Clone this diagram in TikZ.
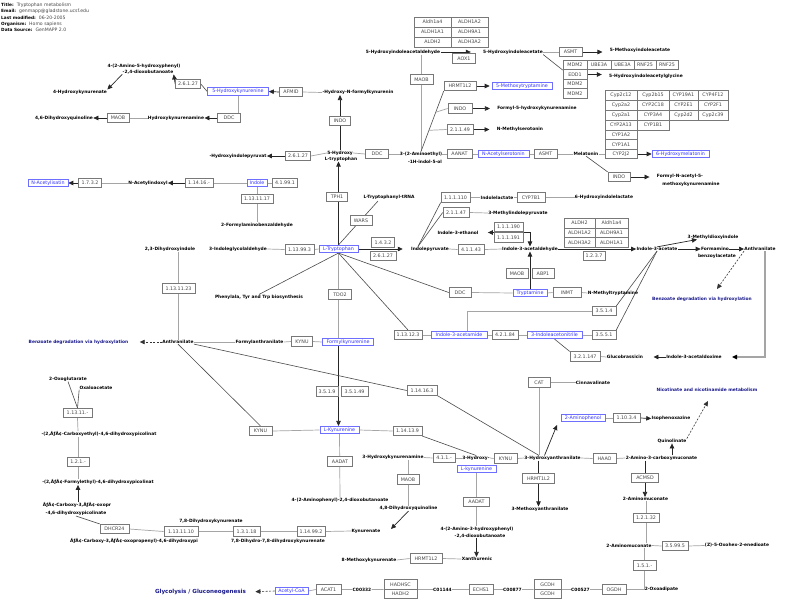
\documentclass[tikz,border=0pt]{standalone}
\usepackage{fontspec}
\setmainfont{DejaVu Sans}
\usetikzlibrary{arrows.meta,calc}
\pgfdeclarelayer{bg}
\pgfsetlayers{bg,main}
\definecolor{navy}{RGB}{25,25,140}
\definecolor{gbord}{RGB}{120,120,120}
\definecolor{gtext}{RGB}{70,70,70}
\definecolor{bbord}{RGB}{110,110,255}
\definecolor{btext}{RGB}{50,50,255}
\definecolor{lgray}{RGB}{165,165,165}
\definecolor{dgray}{RGB}{75,75,75}
\tikzset{
 met/.style={font=\fontsize{4.4}{5}\selectfont\bfseries, inner sep=0.2pt},
 pw/.style={font=\fontsize{4.4}{5}\selectfont\bfseries, text=navy, inner sep=0.2pt},
 gene/.style={draw=gbord, line width=0.6pt, fill=white, font=\fontsize{4.8}{5.5}\selectfont, text=gtext, minimum height=9.5pt, inner sep=0pt},
 blu/.style={draw=bbord, line width=0.6pt, fill=white, font=\fontsize{4.8}{5.5}\selectfont, text=btext, minimum height=7.5pt, inner sep=0pt},
 ln/.style={draw=lgray, line width=0.7pt},
 dln/.style={draw=dgray, line width=0.6pt},
 arr/.style={draw=black!85, line width=0.7pt, -{Triangle[length=5pt,width=4.5pt]}},
 arrb/.style={draw=black!85, line width=0.7pt, {Triangle[length=5pt,width=4.5pt]}-{Triangle[length=5pt,width=4.5pt]}},
 darr/.style={draw=black!80, line width=0.6pt, dash pattern=on 2pt off 1.5pt, -{Triangle[length=5pt,width=4.5pt]}},
 hd/.style={anchor=west, inner sep=0pt},
}
\newcommand{\hlab}{\fontsize{4.3}{5}\selectfont\bfseries}
\newcommand{\hval}{\fontsize{4.6}{5}\selectfont\mdseries\color{gtext}}
\begin{document}
\begin{tikzpicture}[x=1pt,y=-1pt]
\useasboundingbox (0,0) rectangle (785,606);
% header
\node[hd] (h1) at (1,5) {\hlab Title:\ \ \hval Tryptophan metabolism};
\node[hd] (h2) at (1,11.5) {\hlab Email:\ \ \hval genmapp@gladstone.ucsf.edu};
\node[hd] (h3) at (1,18) {\hlab Last modified:\ \ \hval 06-20-2005};
\node[hd] (h4) at (1,24) {\hlab Organism:\ \ \hval Homo sapiens};
\node[hd] (h5) at (1,30) {\hlab Data Source:\ \ \hval GenMAPP 2.0};

% ---------- top left
\node[met] (aahp1) at (144,66) {4-(2-Amino-5-hydroxyphenyl)};
\node[met] (aahp2) at (148,72) {-2,4-dioxobutanoate};
\node[gene, minimum width=25pt] (e26127a) at (188,84) {2.6.1.27};
\node[met] (hkyna) at (80,92) {4-Hydroxykynurenate};
\node[blu, minimum width=61pt] (hkyn) at (238,91.5) {5-Hydroxykynurenine};
\node[gene, minimum width=23pt] (afmid) at (291,92) {AFMID};
\node[met] (hnfk) at (358,92.5) {-Hydroxy-N-formylkynurenin};
\node[gene, minimum width=22pt] (maob1) at (118,118) {MAOB};
\node[met] (dhq46) at (64,118) {4,6-Dihydroxyquinoline};
\node[met] (hkyam) at (176,118) {Hydroxykynurenamine};
\node[gene, minimum width=23pt] (ddc1) at (229,118) {DDC};
\node[gene, minimum width=21pt] (indo1) at (340,121) {INDO};
\node[met] (htrp1) at (340,153) {5-Hydroxy};
\node[met] (htrp2) at (341,159) {L-tryptophan};
\node[gene, minimum width=23pt] (ddc2) at (377,154) {DDC};
\node[gene, minimum width=25pt] (e26127b) at (298,156) {2.6.1.27};
\node[met] (hipyr) at (238,156) {-Hydroxyindolepyruvat};
\node[gene, minimum width=21pt] (tph1) at (337,197) {TPH1};
\node[blu, minimum width=20pt] (indole) at (257,183) {Indole};
\node[gene, minimum width=25pt] (e41991) at (285,183) {4.1.99.1};
\node[gene, minimum width=28pt] (e11416) at (199,183) {1.14.16.-};
\node[met] (nacind) at (148,183) {N-Acetylindoxyl};
\node[gene, minimum width=23pt] (e1732) at (90,183) {1.7.3.2};
\node[blu, minimum width=40pt] (nacis) at (48,183) {N-Acetylisatin};
\node[gene, minimum width=32pt] (e1311117) at (257,199) {1.13.11.17};
\node[met] (fab) at (257,225) {2-Formylaminobenzaldehyde};

% ---------- top middle
\node[gene, minimum width=37pt, minimum height=10pt] (al1) at (432.5,22) {Aldh1a4};
\node[gene, minimum width=37pt, minimum height=10pt] (al2) at (469.5,22) {ALDH1A2};
\node[gene, minimum width=37pt, minimum height=10pt] (al3) at (432.5,32) {ALDH1A1};
\node[gene, minimum width=37pt, minimum height=10pt] (al4) at (469.5,32) {ALDH9A1};
\node[gene, minimum width=37pt, minimum height=10pt] (al5) at (432.5,42) {ALDH2};
\node[gene, minimum width=37pt, minimum height=10pt] (al6) at (469.5,42) {ALDH3A2};
\node[met] (hiald) at (403,52) {5-Hydroxyindoleacetaldehyde};
\node[met] (hiac) at (513,52) {5-Hydroxyindoleacetate};
\node[gene, minimum width=23pt] (aox1) at (464,58.5) {AOX1};
\node[gene, minimum width=23pt] (maob2) at (421.5,79.5) {MAOB};
\node[gene, minimum width=32pt] (hrmt1) at (460,86) {HRMT1L2};
\node[blu, minimum width=60pt] (mtryp) at (522,86) {5-Methoxytryptamine};
\node[gene, minimum width=24pt] (indo2) at (460,108.5) {INDO};
\node[met] (f5hk) at (537,108.5) {Formyl-5-hydroxykynurenamine};
\node[gene, minimum width=26pt] (e21149) at (460,129.5) {2.1.1.49};
\node[met] (nmser) at (520,129.5) {N-Methylserotonin};
\node[met] (amet1) at (421,154) {3-(2-Aminoethyl)};
\node[met] (amet2) at (425,162) {-1H-indol-5-ol};
\node[gene, minimum width=25pt] (aanat) at (459.5,154) {AANAT};
\node[blu, minimum width=51pt] (nacser) at (503.5,154) {N-Acetylserotonin};
\node[gene, minimum width=23pt] (asmt1) at (545.5,154) {ASMT};
\node[met] (melat) at (586,154) {Melatonin};

% ---------- top right
\node[gene, minimum width=23pt] (asmt2) at (570.5,52) {ASMT};
\node[met] (mia) at (640,50.5) {5-Methoxyindoleacetate};
\node[gene, minimum width=24pt] (mdm1) at (575,65) {MDM2};
\node[gene, minimum width=24pt] (edd1) at (575,74.5) {EDD1};
\node[gene, minimum width=24pt] (mdm2) at (575,84) {MDM2};
\node[gene, minimum width=24pt] (mdm3) at (575,93.5) {MDM2};
\node[gene, minimum width=24pt] (ube1) at (599,65) {UBE3A};
\node[gene, minimum width=23pt] (ube2) at (622.5,65) {UBE3A};
\node[gene, minimum width=22pt] (rnf1) at (645,65) {RNF25};
\node[gene, minimum width=22pt] (rnf2) at (667,65) {RNF25};
\node[met] (higly) at (646,76) {5-Hydroxyindoleacetylglycine};
\node[gene, minimum width=32pt, minimum height=10pt] (cy11) at (621,95) {Cyp2c12};
\node[gene, minimum width=32pt, minimum height=10pt] (cy12) at (653,95) {Cyp2b15};
\node[gene, minimum width=29pt, minimum height=10pt] (cy13) at (683.5,95) {CYP19A1};
\node[gene, minimum width=30pt, minimum height=10pt] (cy14) at (713,95) {CYP4F12};
\node[gene, minimum width=32pt, minimum height=10pt] (cy21) at (621,105) {Cyp2a2};
\node[gene, minimum width=32pt, minimum height=10pt] (cy22) at (653,105) {CYP2C18};
\node[gene, minimum width=29pt, minimum height=10pt] (cy23) at (683.5,105) {CYP2E1};
\node[gene, minimum width=30pt, minimum height=10pt] (cy24) at (713,105) {CYP2F1};
\node[gene, minimum width=32pt, minimum height=10pt] (cy31) at (621,115) {Cyp2a1};
\node[gene, minimum width=32pt, minimum height=10pt] (cy32) at (653,115) {CYP3A4};
\node[gene, minimum width=29pt, minimum height=10pt] (cy33) at (683.5,115) {Cyp2d2};
\node[gene, minimum width=30pt, minimum height=10pt] (cy34) at (713,115) {Cyp2c39};
\node[gene, minimum width=32pt, minimum height=10pt] (cy41) at (621,125) {CYP2A13};
\node[gene, minimum width=32pt, minimum height=10pt] (cy42) at (653,125) {CYP1B1};
\node[gene, minimum width=32pt, minimum height=10pt] (cy51) at (621,135) {CYP1A2};
\node[gene, minimum width=32pt] (cy61) at (621,144.5) {CYP1A1};
\node[gene, minimum width=32pt] (cy71) at (621,154) {CYP2J2};
\node[blu, minimum width=57pt] (hmel) at (680.5,154) {6-Hydroxymelatonin};
\node[gene, minimum width=22pt] (indo3) at (619,177) {INDO};
\node[met] (fnak1) at (680,176) {Formyl-N-acetyl-5-};
\node[met] (fnak2) at (691,184.5) {methoxykynurenamine};

% ---------- middle band
\node[met] (trna) at (389,197.5) {L-Tryptophanyl-tRNA};
\coordinate (trnaend) at (378,201);
\node[gene, minimum width=22pt] (wars) at (361,220.5) {WARS};
\node[gene, minimum width=29pt] (e111110) at (455.5,197.5) {1.1.1.110};
\node[met] (ilac) at (497,197.5) {Indolelactate};
\node[gene, minimum width=28pt] (cyp7b1) at (531,197.5) {CYP7B1};
\node[met] (hilac) at (604,197.5) {6-Hydroxyindolelactate};
\node[gene, minimum width=26pt] (e21147) at (456,212.5) {2.1.1.47};
\node[met] (mipyr) at (518,213) {3-Methylindolepyruvate};
\node[met] (ieth) at (458,232.5) {Indole-3-ethanol};
\node[gene, minimum width=29pt] (e111190) at (508.5,227) {1.1.1.190};
\node[gene, minimum width=29pt] (e111191) at (508.5,237.5) {1.1.1.191};
\node[gene, minimum width=23pt] (e1432) at (383,242.5) {1.4.3.2};
\node[gene, minimum width=26pt] (e26127c) at (383,256) {2.6.1.27};
\node[met] (ipyr) at (430,249) {Indolepyruvate};
\coordinate (ipj) at (418,246.5);
\node[gene, minimum width=26pt] (e41143) at (471,249.5) {4.1.1.43};
\node[met] (iald) at (530,249) {Indole-3-acetaldehyde};
\node[gene, minimum width=31pt, minimum height=10pt] (bl1) at (579.5,223) {ALDH2};
\node[gene, minimum width=33pt, minimum height=10pt] (bl2) at (611.5,223) {Aldh1a4};
\node[gene, minimum width=31pt, minimum height=10pt] (bl3) at (579.5,233) {ALDH1A2};
\node[gene, minimum width=33pt, minimum height=10pt] (bl4) at (611.5,233) {ALDH9A1};
\node[gene, minimum width=31pt] (bl5) at (579.5,242.5) {ALDH3A2};
\node[gene, minimum width=33pt] (bl6) at (611.5,242.5) {ALDH1A1};
\node[gene, minimum width=22pt] (e1237) at (594,256) {1.2.3.7};
\node[met] (iac) at (657,249) {Indole-3-acetate};
\node[met] (mdox) at (713,237) {3-Methyldioxyindole};
\coordinate (mdoxtip) at (697,239.5);
\node[met] (fba1) at (715,249) {Formamino};
\node[met] (fba2) at (717,256.5) {benzoylacetate};
\node[met] (anth2) at (760,249) {Anthranilate};
\node[pw] (bdeg2) at (702,299) {Benzoate degradation via hydroxylation};
\coordinate (bdeg2tip) at (717,289);
\node[met] (nmtry) at (613,293) {N-Methyltryptamine};
\node[gene, minimum width=24pt] (e3514) at (604,311) {3.5.1.4};
\node[gene, minimum width=24pt] (e3551) at (604,335) {3.5.5.1};
\node[met] (iaox) at (694,357) {Indole-3-acetaldoxime};
\coordinate (ancorner) at (765,357);
\node[met] (glub) at (625,357) {Glucobrassicin};
\node[gene, minimum width=30pt] (e321147) at (585,356.5) {3.2.1.147};

\node[blu, minimum width=39pt] (ltrp) at (338.5,249) {L-Tryptophan};
\node[gene, minimum width=29pt] (e113993) at (299.5,249.5) {1.13.99.3};
\node[met] (iglyc) at (238,249) {3-Indoleglycolaldehyde};
\node[met] (dhi) at (170,249) {2,3-Dihydroxyindole};
\node[gene, minimum width=33pt] (e1311123) at (178.5,288.5) {1.13.11.23};
\node[met] (phe) at (259,297) {Phenylala, Tyr and Trp biosynthesis};
\node[gene, minimum width=23pt] (tdo2) at (340,294.5) {TDO2};
\node[gene, minimum width=22pt] (ddc3) at (460,292.5) {DDC};
\node[blu, minimum width=34pt] (trypt) at (530,293) {Tryptamine};
\node[gene, minimum width=28pt] (inmt) at (567,292.5) {INMT};
\node[gene, minimum width=22pt] (maob3) at (517,273.5) {MAOB};
\node[gene, minimum width=22pt] (abp1) at (543,273.5) {ABP1};
\node[met] (anth1) at (178,342) {Anthranilate};
\node[pw] (bdeg1) at (78.5,342) {Benzoate degradation via hydroxylation};
\node[met] (fanth) at (259.5,342) {Formylanthranilate};
\node[gene, minimum width=21pt] (kynu1) at (302,341.5) {KYNU};
\node[blu, minimum width=51pt] (fkyn) at (348,342) {Formylkynurenine};
\node[gene, minimum width=28pt] (e1311223) at (408,335) {1.13.12.3};
\node[blu, minimum width=56pt] (iacam) at (459,335) {Indole-3-acetamide};
\node[gene, minimum width=26pt] (e42184) at (505,335) {4.2.1.84};
\node[blu, minimum width=55pt] (ianit) at (554.5,335) {3-Indoleacetonitrile};

% ---------- lower middle
\node[gene, minimum width=22pt] (e3519) at (327,391.5) {3.5.1.9};
\node[gene, minimum width=27pt] (e35149) at (354.5,391.5) {3.5.1.49};
\node[gene, minimum width=30pt] (e114163) at (422,390.5) {1.14.16.3};
\node[gene, minimum width=22pt] (cat) at (539,382.5) {CAT};
\node[met] (cinn) at (593,382.5) {Cinnavalinate};
\node[pw] (nicot) at (707,390) {Nicotinate and nicotinamide metabolism};
\coordinate (nicottip) at (708,401);
\node[blu, minimum width=44pt] (aphen) at (583,418) {2-Aminophenol};
\coordinate (aphentip) at (557,425);
\node[gene, minimum width=27pt] (e11034) at (626.5,418) {1.10.3.4};
\node[met] (isoph) at (671,418.5) {Isophenoxazine};
\node[met] (quin) at (672,441) {Quinolinate};
\node[gene, minimum width=23pt] (kynu2) at (260.5,431) {KYNU};
\node[blu, minimum width=39pt] (lkyn) at (339.5,430) {L-Kynurenine};
\node[gene, minimum width=29pt] (e114139) at (407.5,431) {1.14.13.9};
\node[met] (hkam) at (393,457.5) {3-Hydroxykynurenamine};
\node[gene, minimum width=22pt] (e411) at (444,458) {4.1.1.-};
\node[met] (hlk1) at (476,458) {3-Hydroxy-};
\node[blu, minimum width=39pt] (hlk) at (476.5,469) {L-kynurenine};
\node[gene, minimum width=23pt] (kynu3) at (505.5,458.5) {KYNU};
\node[met] (haa) at (552.5,458) {3-Hydroxyanthranilate};
\node[gene, minimum width=23pt] (haao) at (604.5,458.5) {HAAO};
\node[met] (acm) at (661.5,458) {2-Amino-3-carboxymuconate};
\node[gene, minimum width=25pt] (aadat1) at (340,461.5) {AADAT};
\node[gene, minimum width=22pt] (maob4) at (408,479.5) {MAOB};
\node[gene, minimum width=32pt] (hrmt2) at (538.5,478.5) {HRMT1L2};
\node[gene, minimum width=27pt] (acmsd) at (645,478) {ACMSD};
\node[met] (amu1) at (645.5,499) {2-Aminomuconate};
\node[met] (aphd) at (340,500) {4-(2-Aminophenyl)-2,4-dioxobutanoate};
\node[gene, minimum width=26pt] (aadat2) at (476.5,502) {AADAT};
\node[met] (dhq48) at (408.5,508.5) {4,8-Dihydroxyquinoline};
\coordinate (dhqtip) at (391,529);
\node[met] (mant) at (540,509) {3-Methoxyanthranilate};
\node[gene, minimum width=26pt] (e12132) at (646,518) {1.2.1.32};
\node[met] (ahd1) at (477,529) {4-(2-Amino-3-hydroxyphenyl)};
\node[met] (ahd2) at (480,536) {-2,4-dioxobutanoate};
\node[met] (kyna) at (366,531) {Kynurenate};
\node[gene, minimum width=28pt] (e114992) at (311,531.5) {1.14.99.2};
\node[gene, minimum width=27pt] (e13118) at (246.5,531.5) {1.3.1.18};
\node[gene, minimum width=34pt] (e1311110) at (181,531.5) {1.13.11.10};
\node[gene, minimum width=29pt] (dhcr) at (114.5,529) {DHCR24};
\node[met] (dhk78) at (211,521.5) {7,8-Dihydroxykynurenate};
\node[met] (ddhk) at (278,541) {7,8-Dihydro-7,8-dihydroxykynurenate};
\node[met] (amu2) at (629,545.5) {2-Aminomuconate};
\node[gene, minimum width=26pt] (e35995) at (675,546) {3.5.99.5};
\node[met] (oxh) at (737,545.5) {(Z)-5-Oxohex-2-enedioate};
\node[met] (xan) at (477,559) {Xanthurenic};
\node[gene, minimum width=32pt] (hrmt3) at (426,558.5) {HRMT1L2};
\node[met] (mkyna) at (369,560) {8-Methoxykynurenate};
\node[gene, minimum width=23pt] (e151) at (644.5,565.5) {1.5.1.-};

% ---------- bottom row
\node[pw, font=\fontsize{5.6}{6.5}\selectfont\bfseries] (glyc) at (200.5,592) {Glycolysis / Gluconeogenesis};
\node[blu, minimum width=33pt] (acoa) at (291.5,591) {Acetyl-CoA};
\node[gene, minimum width=25pt] (acat1) at (328.5,589.5) {ACAT1};
\node[met] (c332) at (362,589.5) {C00332};
\node[gene, minimum width=33pt] (hadhsc) at (400.5,584.5) {HADHSC};
\node[gene, minimum width=33pt] (hadh2) at (400.5,594) {HADH2};
\node[met] (c1144) at (442.5,589.5) {C01144};
\node[gene, minimum width=24pt] (echs1) at (481,589.5) {ECHS1};
\node[met] (c877) at (512.5,589.5) {C00877};
\node[gene, minimum width=27pt] (gcdh1) at (547.5,584.5) {GCDH};
\node[gene, minimum width=27pt] (gcdh2) at (547.5,594) {GCDH};
\node[met] (c527) at (580.5,589.5) {C00527};
\node[gene, minimum width=24pt] (ogdh) at (614,589.5) {OGDH};
\node[met] (oxad) at (661.5,589.5) {2-Oxoadipate};

% ---------- bottom left
\node[met] (oxg) at (68,379) {2-Oxoglutarate};
\node[met] (oxa) at (96,387.5) {Oxaloacetate};
\node[gene, minimum width=29pt] (e13111) at (77.5,413) {1.13.11.-};
\node[met] (cbe) at (99,434) {-(2,ÃƒÂ¢-Carboxyethyl)-4,6-dihydroxypicolinat};
\node[gene, minimum width=22pt] (e121) at (78,462) {1.2.1.-};
\node[met] (fme) at (98,482) {-(2,ÃƒÂ¢-Formylethyl)-4,6-dihydroxypicolinat};
\node[met] (cbo1) at (77,505) {ÃƒÂ¢-Carboxy-3,ÃƒÂ¢-oxopr};
\node[met] (cbo2) at (76,513.5) {-4,6-dihydroxypicolinate};
\node[met] (cbo3) at (134,541) {ÃƒÂ¢-Carboxy-3,ÃƒÂ¢-oxopropenyl)-4,6-dihydroxypi};

\begin{pgfonlayer}{bg}
\fill[white] (0,0) rectangle (785,606);
% top left
\draw[arr] (e26127a.west) -- (aahp2.south east);
\draw[arr] (aahp2.south west) -- (hkyna.north east);
\draw[dln] (e26127a.east) -- (hkyn.west);
\draw[arr] (afmid.west) -- (hkyn.east);
\draw[ln] (afmid.east) -- (hnfk.west);
\draw[ln] (hkyn.south) -- (hkyn.south |- ddc1.north);
\draw[arr] (ddc1.west) -- (hkyam.east);
\draw[ln] (hkyam.west) -- (maob1.east);
\draw[arr] (maob1.west) -- (dhq46.east);
\draw[arr] (htrp1.north) -- (htrp1.north |- hnfk.south);
\draw[ln] (htrp1.east) -- (ddc2.west);
\draw[ln] (ddc2.east) -- (amet1.west);
\draw[ln] (htrp1.west) -- (e26127b.east);
\draw[arr] (e26127b.west) -- (hipyr.east);
\draw[arr] (ltrp.north) -- (ltrp.north |- htrp2.south);
\draw[ln] (indole.west) -- (e11416.east);
\draw[arr] (e11416.west) -- (nacind.east);
\draw[ln] (nacind.west) -- (e1732.east);
\draw[arr] (e1732.west) -- (nacis.east);
\draw[ln] (indole.east) -- (e41991.west);
\draw[ln] (indole.south) -- (fab.north);
% top middle
\draw[arr, shorten >=12pt] (hiald.east) -- (hiac.west);
\draw[ln] (hiald.south -| maob2) -- (amet1.north -| maob2);
\draw[dln] (amet1.north) -- (hrmt1.south west);
\draw[ln] ($(amet1.north)!0.65!(hrmt1.south west)$) -- (indo2.west);
\draw[ln] ($(amet1.north)!0.35!(hrmt1.south west)$) -- (e21149.west);
\draw[arr, shorten >=2pt] (hrmt1.east) -- (mtryp.west);
\draw[arr, shorten >=7pt] (indo2.east) -- (f5hk.west);
\draw[arr, shorten >=7pt] (e21149.east) -- (nmser.west);
\draw[ln] (amet1.east) -- (aanat.west);
\draw[ln] (aanat.east) -- (nacser.west);
\draw[ln] (nacser.east) -- (asmt1.west);
\draw[ln] (asmt1.east) -- (melat.west);
\draw[ln] (melat.east) -- (cy71.west);
\draw[arr] (cy71.east) -- (hmel.west);
\draw[dln] (melat.south) -- (indo3.north west);
\draw[arr, shorten >=7pt] (indo3.east) -- (fnak1.west |- indo3.east);
\draw[ln] (hiac.east) -- (asmt2.west);
\draw[arr, shorten >=7pt] (asmt2.east) -- (mia.west |- asmt2.east);
\draw[dln] (hiac.south east) -- (mdm1.south west);
\draw[arr, shorten >=7pt] (edd1.east) -- (higly.west |- edd1.east);
% middle
\draw[dln] (ltrp.north) -- (trnaend);
\draw[dln] (ipj) -- (e111110.south west);
\draw[dln] (ipj) -- (e21147.west);
\draw[ln] (e111110.east) -- (ilac.west);
\draw[ln] (ilac.east) -- (cyp7b1.west);
\draw[ln] (cyp7b1.east) -- (hilac.west);
\draw[ln] (e21147.east) -- (mipyr.west);
\draw[arr, shorten >=8pt] (ltrp.east) -- (ipyr.west);
\draw[ln] (ipyr.east) -- (e41143.west);
\draw[ln] (e41143.east) -- (iald.west);
\draw[arrb, shorten <=9pt] (ieth.east) -| (iald.north);
\draw[arr] (trypt.north) -- (iald.south);
\draw[arr] (iald.east) -- (iac.west);
\draw[arr] (iac.east) -- (fba1.west);
\draw[arr] (iac.north) -- (mdoxtip);
\draw[arr] (fba1.east) -- (anth2.west);
\draw[darr] (anth2.south west) -- (bdeg2tip);
\draw[draw=lgray, line width=1.1pt, -{Triangle[length=5pt,width=4.5pt,color=black]}, shorten >=10pt] (anth2.south -| ancorner) |- (iaox.east);
\draw[arr, shorten >=10pt] (iaox.west) -- (glub.east);
\draw[ln] (glub.west) -- (e321147.east);
\draw[dln] (e3514.north east) -- (iac.south);
\draw[dln] (e3551.north east) -- (iac.south);
\draw[ln] (ianit.east) -- (e3551.west);
\draw[ln] ($(iacam.north)+(8,0)$) |- (e3514.west);
\draw[dln] (ianit.south) -- (e321147.north west);
\draw[ln] (ltrp.west) -- (e113993.east);
\draw[ln] (e113993.west) -- (iglyc.east);
\draw[dln] (ltrp.south) -- (phe.north);
\draw[ln] (ltrp.south) -- (ltrp.south |- fkyn.north);
\draw[dln] (ltrp.south) -- (ddc3.west);
\draw[dln] (ltrp.south) -- (e1311223.north);
\draw[ln] (ddc3.east) -- (trypt.west);
\draw[ln] (trypt.east) -- (inmt.west);
\draw[ln] (inmt.east) -- (nmtry.west);
\draw[ln] (e1311223.east) -- (iacam.west);
\draw[ln] (iacam.east) -- (e42184.west);
\draw[ln] (e42184.east) -- (ianit.west);
\draw[ln] (dhi.south -| e1311123) -- (anth1.north -| e1311123);
\draw[darr, shorten >=11pt] (anth1.west) -- (bdeg1.east);
\draw[ln] (anth1.east) -- (fanth.west);
\draw[ln] (fanth.east) -- (kynu1.west);
\draw[ln] (kynu1.east) -- (fkyn.west);
\draw[arr] (ltrp.south |- fkyn.south) -- (ltrp.south |- lkyn.north);
% lower
\draw[dln] (anth1.south east) -- (e114163.west);
\draw[dln] (e114163.south east) -- (haa.north -| cat);
\draw[dln] (anth1.south) -- (kynu2.north);
\draw[ln] (kynu2.east) -- (lkyn.west);
\draw[ln] (lkyn.east) -- (e114139.west);
\draw[dln] (e114139.south east) -- (hlk1.north);
\draw[ln] (lkyn.south) -- (aphd.north);
\draw[ln] (hkam.east) -- (e411.west);
\draw[ln] (e411.east) -- (hlk1.west);
\draw[ln] (hlk1.east) -- (kynu3.west);
\draw[ln] (kynu3.east) -- (haa.west);
\draw[ln] (haa.east) -- (haao.west);
\draw[ln] (haao.east) -- (acm.west);
\draw[ln] (hkam.south -| maob4) -- (dhq48.north -| maob4);
\draw[arr] (dhq48.south) -- (dhqtip);
\draw[ln] (hlk.south) -- (ahd1.north -| hlk.south);
\draw[arr] (ahd2.south -| hlk.south) -- (xan.north -| hlk.south);
\draw[ln] (mkyna.east) -- (hrmt3.west);
\draw[ln] (hrmt3.east) -- (xan.west);
\draw[ln] (cat.east) -- (cinn.west);
\draw[ln] (cat.south) -- (haa.north -| cat);
\draw[arr] ($(haa.north)+(-8,0)$) -- (aphentip);
\draw[ln] (aphen.east) -- (e11034.west);
\draw[arr] (e11034.east) -- (isoph.west);
\draw[arr] (haa.south -| hrmt2) -- (mant.north -| hrmt2);
\draw[arr] (acm.north -| quin.south) -- (quin.south);
\draw[darr] (quin.north east) -- (nicottip);
\draw[arr] (acm.south -| acmsd) -- (amu1.north -| acmsd);
\draw[ln] (amu1.south -| e12132) -- (amu2.north -| e12132);
\draw[ln] (amu2.east) -- (e35995.west);
\draw[ln] (e35995.east) -- (oxh.west);
\draw[ln] (amu2.south -| e151) -- (e151.north);
\draw[ln] (e151.south) |- (oxad.west);
\draw[ln] (oxad.west) -- (ogdh.east);
\draw[ln] (ogdh.west) -- (c527.east);
\draw[ln] (c527.west) -- (gcdh1.south east);
\draw[ln] (gcdh1.south west) -- (c877.east);
\draw[ln] (c877.west) -- (echs1.east);
\draw[ln] (echs1.west) -- (c1144.east);
\draw[ln] (c1144.west) -- (hadhsc.south east);
\draw[ln] (hadhsc.south west) -- (c332.east);
\draw[ln] (c332.west) -- (acat1.east);
\draw[ln] (acat1.west) -- (acoa.east);
\draw[darr, shorten >=9pt] (acoa.west) -- (glyc.east);
% bottom left
\draw[ln] (dhcr.east) -- (e1311110.west);
\draw[ln] (e1311110.east) -- (e13118.west);
\draw[ln] (e13118.east) -- (e114992.west);
\draw[ln] (e114992.east) -- (kyna.west);
\draw[dln] (cbo2.south) -- (dhcr.north west);
\draw[arr] (cbo1.north -| e121) -- (fme.south -| e121);
\draw[ln] (fme.north -| e121) -- (cbe.south -| e121);
\draw[ln] (cbe.north -| e121) -- (e13111.south);
\draw[dln] (oxg.south) -- (e13111.north);
\draw[dln] (oxa.south west) -- (e13111.north);
\end{pgfonlayer}
\end{tikzpicture}
\end{document}
